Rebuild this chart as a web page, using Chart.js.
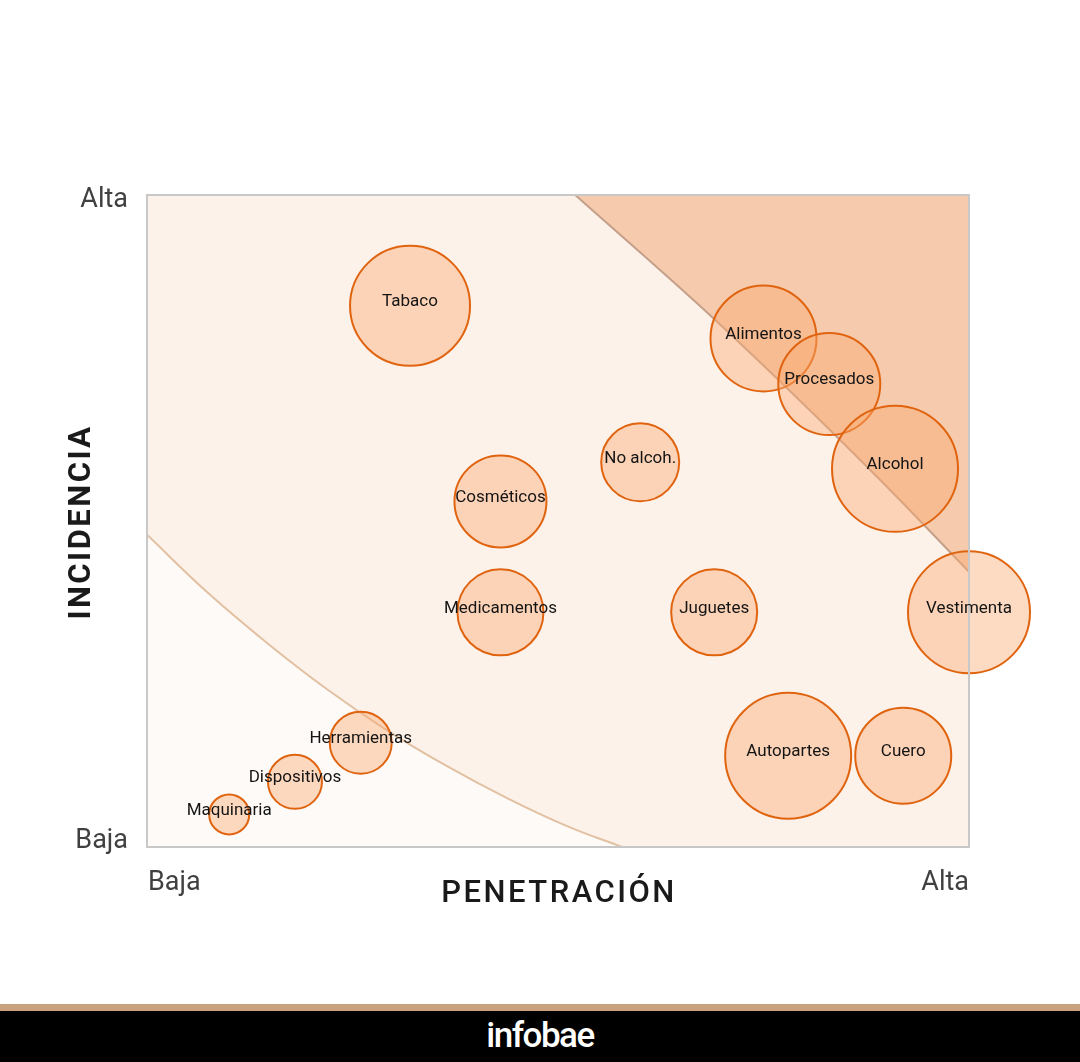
<!DOCTYPE html>
<html lang="es">
<head>
<meta charset="UTF-8">
<title>Penetración e incidencia</title>
<script src="https://cdn.jsdelivr.net/npm/chart.js"></script>
<style>
  body { margin: 0; background: #fff; width: 1080px; height: 1062px; overflow: hidden; font-family: Roboto, sans-serif; }
  #wrap { position: relative; width: 1080px; height: 1004px; }
  .strip { height: 7px; background: #c9a17e; }
  .footer { height: 51px; background: #000; color: #fff; text-align: center;
            font: 500 35px Roboto, sans-serif; letter-spacing: -1.5px; line-height: 50px; }
</style>
</head>
<body>
<div id="wrap"><canvas id="chart" width="1080" height="1004"></canvas></div>
<div class="strip"></div>
<div class="footer">infobae</div>
<script>
// sectores: penetración (x), incidencia (y), tamaño de burbuja
const sectors = ['Tabaco', 'Alimentos', 'Procesados', 'Alcohol', 'No alcoh.', 'Cosméticos',
  'Medicamentos', 'Juguetes', 'Vestimenta', 'Autopartes', 'Cuero', 'Herramientas',
  'Dispositivos', 'Maquinaria'];
const penetration = [32, 75, 83, 91, 60, 43, 43, 69, 100, 78, 92, 26, 18, 10];
const incidence   = [83, 78, 71, 58, 59, 53, 36, 36, 36, 14, 14, 16, 10, 5];
const bubbleSize  = [60, 53, 51, 63, 39, 46, 43, 43, 61, 63, 48, 31, 27, 20];

// zonas de fondo
const lowZoneX = [0, 7.3, 14.6, 21.9, 29.2, 36.5, 43.8, 51.1, 57.8];
const lowZoneY = [47.9, 39.1, 31.3, 24.2, 17.9, 12.4, 7.5, 3.2, 0];
const highZoneX = [52.1, 68.9, 89.2, 100];
const highZoneY = [100, 81.1, 56.3, 42.2];

const yTicks = ['Baja', 'Alta'];
const xTicks = ['Baja', 'Alta'];

const pts = (xs, ys) => xs.map((x, i) => ({ x: x, y: ys[i] }));

const frame = {
  id: 'frame',
  beforeDatasetsDraw(chart) {
    const { ctx, chartArea: a } = chart;
    ctx.save();
    ctx.fillStyle = '#fdf2ea';
    ctx.fillRect(a.left, a.top, a.width, a.height);
    ctx.restore();
  },
  afterDatasetsDraw(chart) {
    const { ctx, chartArea: a, scales } = chart;
    ctx.save();
    // borde
    ctx.strokeStyle = '#c8c8c8';
    ctx.lineWidth = 2;
    ctx.strokeRect(a.left, a.top, a.width, a.height);

    // etiquetas de burbujas
    const meta = chart.getDatasetMeta(2);
    ctx.fillStyle = '#141414';
    ctx.font = '17px Roboto, sans-serif';
    ctx.textAlign = 'center';
    ctx.textBaseline = 'middle';
    meta.data.forEach((el, i) => ctx.fillText(sectors[i], el.x, el.y - 4));

    // ticks
    ctx.fillStyle = '#404040';
    ctx.font = '27px Roboto, sans-serif';
    ctx.textAlign = 'right';
    ctx.fillText(yTicks[1], a.left - 19, scales.y.getPixelForValue(100) + 5);
    ctx.fillText(yTicks[0], a.left - 19, scales.y.getPixelForValue(0) - 6);
    ctx.textAlign = 'left';
    ctx.fillText(xTicks[0], a.left + 1, a.bottom + 36);
    ctx.textAlign = 'right';
    ctx.fillText(xTicks[1], a.right, a.bottom + 36);

    // títulos de ejes
    ctx.fillStyle = '#1a1a1a';
    ctx.font = '500 31px Roboto, sans-serif';
    ctx.textAlign = 'center';
    ctx.letterSpacing = '2.5px';
    ctx.fillText('PENETRACIÓN', (a.left + a.right) / 2 + 1, a.bottom + 47);
    ctx.translate(82, 522);
    ctx.rotate(-Math.PI / 2);
    ctx.font = 'bold 31px Roboto, sans-serif';
    ctx.fillText('INCIDENCIA', 0, 0);
    ctx.restore();
  }
};

new Chart(document.getElementById('chart'), {
  type: 'bubble',
  data: {
    datasets: [
      {
        type: 'line',
        data: pts(lowZoneX, lowZoneY),
        borderColor: '#e2c0a2',
        borderWidth: 2,
        backgroundColor: '#fefaf8',
        fill: 'origin',
        pointRadius: 0,
        tension: 0.4,
        order: 3
      },
      {
        type: 'line',
        data: pts(highZoneX, highZoneY),
        borderColor: '#c4a08a',
        borderWidth: 2,
        backgroundColor: '#f6caac',
        fill: 'end',
        pointRadius: 0,
        cubicInterpolationMode: 'monotone',
        order: 2
      },
      {
        data: penetration.map((x, i) => ({ x: x, y: incidence[i], r: bubbleSize[i] })),
        backgroundColor: 'rgba(251,170,112,0.42)',
        borderColor: '#e0640f',
        borderWidth: 2,
        clip: false,
        order: 1
      }
    ]
  },
  options: {
    responsive: false,
    animation: false,
    layout: { padding: { left: 147, top: 195, right: 111, bottom: 157 } },
    plugins: { legend: { display: false }, tooltip: { enabled: false } },
    elements: { point: { hoverRadius: 0 } },
    scales: {
      x: { type: 'linear', min: 0, max: 100, display: false },
      y: { type: 'linear', min: 0, max: 100, display: false }
    }
  },
  plugins: [frame]
});
</script>
</body>
</html>
